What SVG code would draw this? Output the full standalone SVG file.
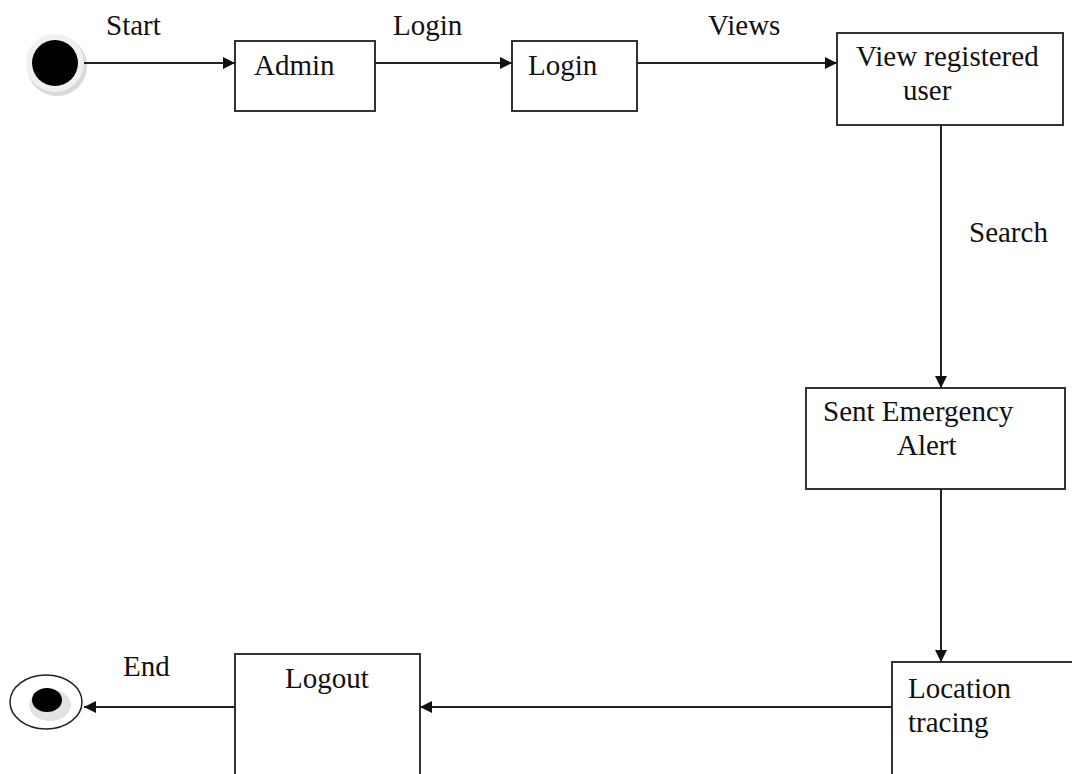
<svg xmlns="http://www.w3.org/2000/svg" width="1072" height="774" viewBox="0 0 1072 774">
<defs>
<marker id="arr" viewBox="0 0 12 12" refX="12" refY="6" markerWidth="12" markerHeight="12" markerUnits="userSpaceOnUse" orient="auto">
<path d="M0,0 L12,6 L0,12 Z" fill="#111"/>
</marker>
</defs>
<style>
.box{fill:#fff;stroke:#333;stroke-width:2}
.t{font-family:"Liberation Serif","Times New Roman",serif;font-size:29px;fill:#111}
.c{fill:none;stroke:#222;stroke-width:2;marker-end:url(#arr)}
</style>
<rect width="1072" height="774" fill="#fff"/>
<g id="start">
<circle cx="57" cy="66" r="30" fill="#d9d9d9"/>
<circle cx="55" cy="63" r="29" fill="#f0f0f0"/>
<circle cx="55" cy="63" r="23" fill="#000"/>
</g>
<g id="admin"><rect class="box" x="235" y="41" width="140" height="70"/><text class="t" x="254" y="75">Admin</text></g>
<g id="login"><rect class="box" x="512" y="41" width="125" height="70"/><text class="t" x="528" y="75">Login</text></g>
<g id="view"><rect class="box" x="837" y="33" width="226" height="92"/><text class="t" x="856" y="66">View registered</text><text class="t" x="903" y="100">user</text></g>
<g id="alert"><rect class="box" x="806" y="388" width="259" height="101"/><text class="t" x="823" y="421">Sent Emergency</text><text class="t" x="897" y="455">Alert</text></g>
<g id="location"><rect class="box" x="892" y="662" width="190" height="130"/><text class="t" x="908" y="698">Location</text><text class="t" x="908" y="732">tracing</text></g>
<g id="logout"><rect class="box" x="235" y="654" width="185" height="140"/><text class="t" x="285" y="688">Logout</text></g>
<g id="end">
<ellipse cx="46" cy="702" rx="36" ry="27" fill="#fff" stroke="#222" stroke-width="1.5"/>
<ellipse cx="50" cy="705" rx="21" ry="16" fill="#e2e2e2"/>
<ellipse cx="47" cy="700" rx="15" ry="12" fill="#000"/>
</g>
<g id="connectors">
<line class="c" x1="84" y1="63" x2="235" y2="63"/>
<line class="c" x1="375" y1="63" x2="512" y2="63"/>
<line class="c" x1="637" y1="63" x2="837" y2="63"/>
<line class="c" x1="941" y1="125" x2="941" y2="388"/>
<line class="c" x1="941" y1="489" x2="941" y2="662"/>
<line class="c" x1="892" y1="707" x2="420" y2="707"/>
<line class="c" x1="235" y1="707" x2="84" y2="707"/>
<text class="t" x="106" y="35">Start</text>
<text class="t" x="393" y="35">Login</text>
<text class="t" x="708" y="35">Views</text>
<text class="t" x="969" y="242">Search</text>
<text class="t" x="123" y="676">End</text>
</g>
</svg>
